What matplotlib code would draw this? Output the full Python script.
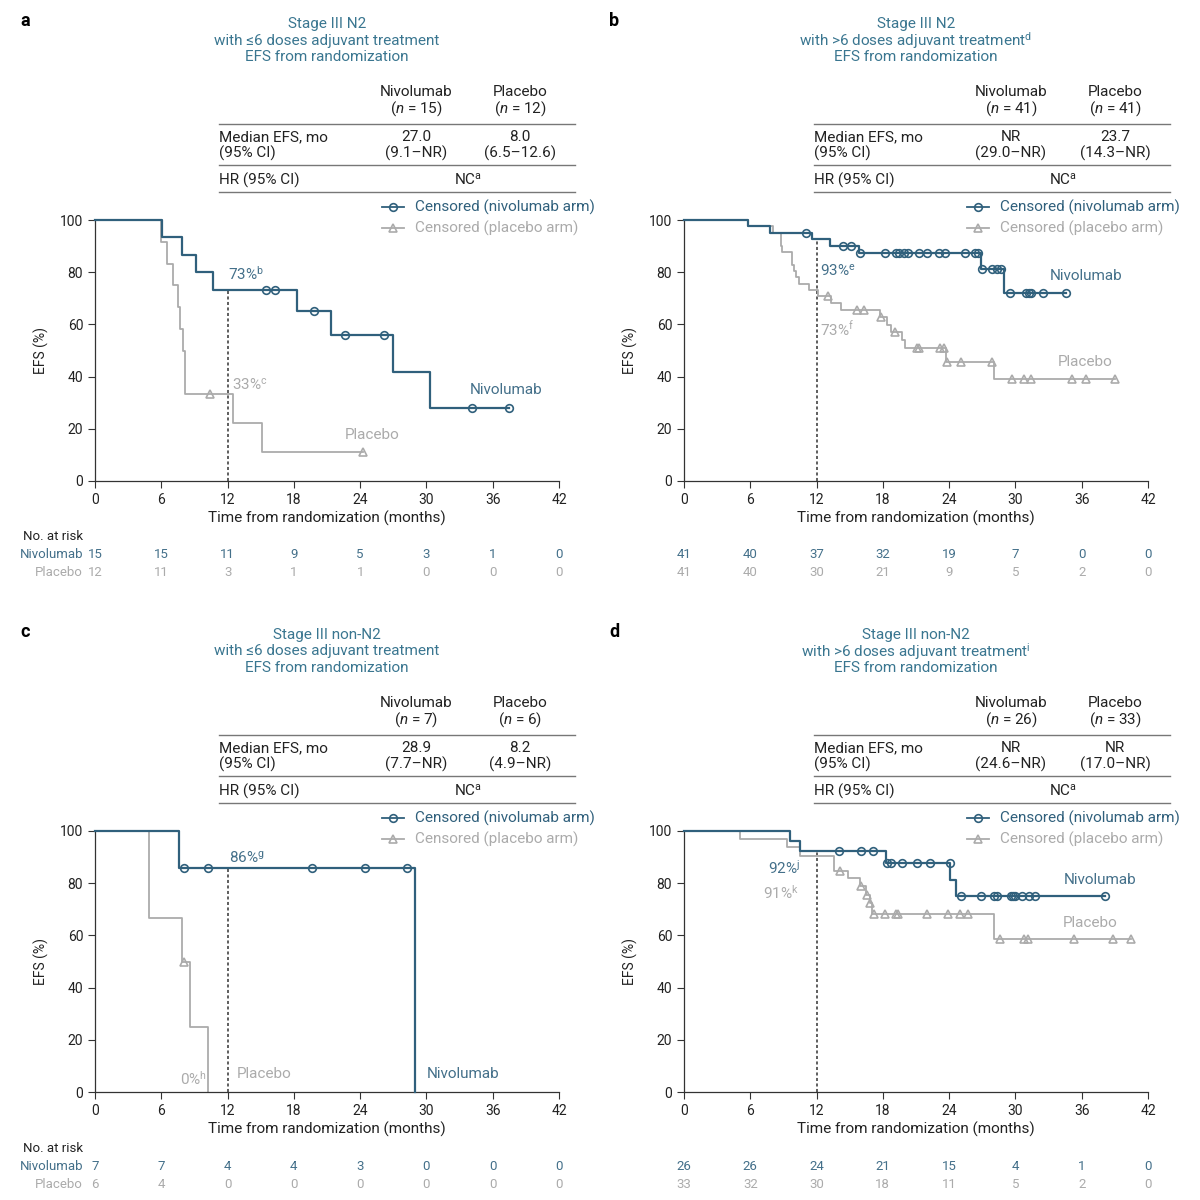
import numpy as np
import matplotlib
matplotlib.use('Agg')
import matplotlib.pyplot as plt
from matplotlib.lines import Line2D
from matplotlib.transforms import blended_transform_factory

plt.rcParams['font.family'] = ['Roboto', 'DejaVu Sans']
plt.rcParams['mathtext.fontset'] = 'custom'
plt.rcParams['mathtext.rm'] = 'Roboto'
plt.rcParams['mathtext.it'] = 'Roboto:italic'

NIVO = '#30607c'
NIVO_TXT = '#44708a'
PLAC = '#ababab'
TITLE = '#3a7690'
INK = '#222222'

months = [0, 6, 12, 18, 24, 30, 36, 42]

# ---- panel a: Stage III N2, <=6 doses
a_nivo_t = [6.1, 7.9, 9.1, 10.65, 18.25, 21.4, 27.0, 30.3]
a_nivo_s = [93.3, 86.7, 80.0, 73.3, 65.2, 55.9, 41.9, 27.9]
a_nivo_c = [15.5, 16.3, 19.85, 22.6, 26.2, 34.1, 37.5]
a_plac_t = [5.95, 6.5, 7.1, 7.5, 7.7, 8.0, 8.15, 12.5, 15.1]
a_plac_s = [91.7, 83.3, 75.0, 66.7, 58.3, 50.0, 33.3, 22.2, 11.1]
a_plac_c = [10.4, 24.3]
a_risk_nivo = [15, 15, 11, 9, 5, 3, 1, 0]
a_risk_plac = [12, 11, 3, 1, 1, 0, 0, 0]

# ---- panel b: Stage III N2, >6 doses
b_nivo_t = [5.8, 7.8, 11.6, 13.2, 15.8, 26.9, 29.0]
b_nivo_s = [97.6, 95.1, 92.6, 90.0, 87.5, 81.1, 72.2]
b_nivo_c = [11.0, 14.4, 15.1, 15.9, 18.2, 19.2, 19.5, 19.9, 20.3, 21.3, 22.0,
            23.1, 23.6, 25.4, 26.3, 26.6, 27.0, 27.9, 28.3, 28.7, 29.5, 31.0,
            31.2, 31.4, 32.5, 34.6]
b_plac_t = [5.8, 8.1, 8.75, 8.8, 8.85, 9.75, 9.8, 10.0, 10.1, 10.4, 11.3, 12.1,
            13.3, 14.2, 17.7, 18.4, 18.75, 19.7, 20.0, 23.7, 28.1]
b_plac_s = [97.6, 95.1, 92.7, 90.2, 87.8, 85.4, 82.9, 80.5, 78.0, 75.6, 73.2,
            70.7, 68.1, 65.5, 62.8, 59.9, 57.0, 54.0, 51.0, 45.5, 39.0]
b_plac_c = [13.0, 15.7, 16.3, 17.8, 19.1, 21.1, 21.25, 23.2, 23.5, 23.8, 25.1,
            27.9, 29.7, 30.8, 31.4, 35.1, 36.4, 39.0]
b_risk_nivo = [41, 40, 37, 32, 19, 7, 0, 0]
b_risk_plac = [41, 40, 30, 21, 9, 5, 2, 0]

# ---- panel c: Stage III non-N2, <=6 doses
c_nivo_t = [7.6, 29.0]
c_nivo_s = [85.7, 0.0]
c_nivo_c = [8.1, 10.2, 19.6, 24.4, 28.2]
c_plac_t = [4.9, 7.9, 8.6, 10.2]
c_plac_s = [66.7, 50.0, 25.0, 0.0]
c_plac_c = [8.1]
c_risk_nivo = [7, 7, 4, 4, 3, 0, 0, 0]
c_risk_plac = [6, 4, 0, 0, 0, 0, 0, 0]

# ---- panel d: Stage III non-N2, >6 doses
d_nivo_t = [9.6, 10.5, 18.3, 24.1, 24.6]
d_nivo_s = [96.2, 92.3, 87.9, 81.3, 75.2]
d_nivo_c = [14.0, 16.0, 17.1, 18.4, 18.7, 19.7, 21.1, 22.3, 24.05, 25.1, 26.9,
            28.1, 28.3, 29.6, 29.8, 30.0, 30.6, 31.2, 31.8, 38.1]
d_plac_t = [5.1, 9.3, 10.5, 13.6, 14.8, 15.9, 16.5, 16.8, 17.0, 28.1]
d_plac_s = [97.0, 94.0, 90.6, 84.5, 81.9, 78.8, 75.6, 72.5, 68.3, 58.7]
d_plac_c = [14.1, 16.0, 16.6, 16.85, 17.2, 18.2, 19.2, 19.4, 22.0, 23.9, 25.0,
            25.7, 28.6, 30.8, 31.1, 35.3, 38.8, 40.5]
d_risk_nivo = [26, 26, 24, 21, 15, 4, 1, 0]
d_risk_plac = [33, 32, 30, 18, 11, 5, 2, 0]

titles = [
    ['Stage III N2', 'with \u22646 doses adjuvant treatment', 'EFS from randomization'],
    ['Stage III N2', 'with >6 doses adjuvant treatment$^{\\mathrm{d}}$', 'EFS from randomization'],
    ['Stage III non-N2', 'with \u22646 doses adjuvant treatment', 'EFS from randomization'],
    ['Stage III non-N2', 'with >6 doses adjuvant treatment$^{\\mathrm{i}}$', 'EFS from randomization'],
]
n_nivo = [15, 41, 7, 26]
n_plac = [12, 41, 6, 33]
med_nivo = ['27.0', 'NR', '28.9', 'NR']
med_plac = ['8.0', '23.7', '8.2', 'NR']
ci_nivo = ['(9.1\u2013NR)', '(29.0\u2013NR)', '(7.7\u2013NR)', '(24.6\u2013NR)']
ci_plac = ['(6.5\u201312.6)', '(14.3\u2013NR)', '(4.9\u2013NR)', '(17.0\u2013NR)']

fig = plt.figure(figsize=(12, 12), dpi=100)


def fx(x):
    return x / 1200.0


def fy(y):
    return 1 - y / 1200.0


def surv_at(ts, ss, t):
    i = np.searchsorted(ts, t, side='right') - 1
    return 100.0 if i < 0 else ss[i]


def km(ax, ts, ss, cens, color, marker, lw, z):
    end = max(max(ts), max(cens))
    x = np.concatenate([[0], ts, [end]])
    y = np.concatenate([[100], ss, [ss[-1]]])
    ax.step(x, y, where='post', color=color, lw=lw, zorder=z, clip_on=False)
    cy = [surv_at(ts, ss, c) for c in cens]
    ax.plot(cens, cy, ls='none', marker=marker, ms=5.5 if marker == 'o' else 6,
            mfc='none', mec=color, mew=1.2, zorder=z + 1, clip_on=False)


def header(k, ox, oy, tx, lx):
    # title
    for j, line in enumerate(titles[k]):
        fig.text(fx(327 + ox), fy(24 + 16.5 * j + oy), line, ha='center', va='center',
                 color=TITLE, fontsize=11)
    # table
    L, R = 219 + tx, 575 + tx
    cn, cp = 416 + tx, 520 + tx
    fs = 11
    fig.text(fx(cn), fy(92 + oy), 'Nivolumab', ha='center', va='center', color=INK, fontsize=fs)
    fig.text(fx(cn), fy(109 + oy), '($\\mathit{n}$ = %d)' % n_nivo[k], ha='center', va='center', color=INK, fontsize=fs)
    fig.text(fx(cp), fy(92 + oy), 'Placebo', ha='center', va='center', color=INK, fontsize=fs)
    fig.text(fx(cp), fy(109 + oy), '($\\mathit{n}$ = %d)' % n_plac[k], ha='center', va='center', color=INK, fontsize=fs)
    fig.text(fx(L), fy(137 + oy), 'Median EFS, mo', ha='left', va='center', color=INK, fontsize=fs)
    fig.text(fx(L), fy(153 + oy), '(95% CI)', ha='left', va='center', color=INK, fontsize=fs)
    fig.text(fx(cn), fy(137 + oy), med_nivo[k], ha='center', va='center', color=INK, fontsize=fs)
    fig.text(fx(cn), fy(153 + oy), ci_nivo[k], ha='center', va='center', color=INK, fontsize=fs)
    fig.text(fx(cp), fy(137 + oy), med_plac[k], ha='center', va='center', color=INK, fontsize=fs)
    fig.text(fx(cp), fy(153 + oy), ci_plac[k], ha='center', va='center', color=INK, fontsize=fs)
    fig.text(fx(L), fy(180 + oy), 'HR (95% CI)', ha='left', va='center', color=INK, fontsize=fs)
    fig.text(fx(468 + tx), fy(180 + oy), 'NC$^{\\mathrm{a}}$', ha='center', va='center', color=INK, fontsize=fs)
    for yy in (124, 165, 192):
        fig.add_artist(Line2D([fx(L), fx(R)], [fy(yy + oy)] * 2, color='#777777', lw=1.0))
    # legend
    for yy, col, mk, lab in ((207, NIVO, 'o', 'Censored (nivolumab arm)'),
                             (228, PLAC, '^', 'Censored (placebo arm)')):
        fig.add_artist(Line2D([fx(382 + lx), fx(404 + lx)], [fy(yy + oy)] * 2, color=col, lw=1.3))
        fig.add_artist(Line2D([fx(393 + lx)], [fy(yy + oy)], ls='none', marker=mk, ms=5.5,
                              mfc='none', mec=col, mew=1.2))
        fig.text(fx(415 + lx), fy(yy + oy), lab, ha='left', va='center', color=col, fontsize=11)


def panel(k, letter, ox, oy, tx, lx, nivo, plac, risk_n, risk_p, ann, row_labels):
    fig.text(fx(20 + ox), fy(21 + oy), letter, ha='left', va='center', fontsize=13,
             fontweight='bold', color='black')
    header(k, ox, oy, tx, lx)
    ax = fig.add_axes([fx(95 + ox), fy(481 + oy), 464 / 1200.0, 261 / 1200.0])
    ax.set_xlim(0, 42)
    ax.set_ylim(0, 100)
    for s in ('top', 'right'):
        ax.spines[s].set_visible(False)
    for s in ('left', 'bottom'):
        ax.spines[s].set_color('#333333')
        ax.spines[s].set_linewidth(0.9)
    ax.set_xticks(months)
    ax.set_yticks([0, 20, 40, 60, 80, 100])
    ax.tick_params(direction='out', length=5, width=0.8, colors='#333333', labelsize=10,
                   labelcolor=INK)
    ax.set_xlabel('Time from randomization (months)', fontsize=11, color=INK, labelpad=3)
    ax.set_ylabel('EFS (%)', fontsize=10, color=INK, labelpad=8)

    # 12-month landmark
    ax.plot([12, 12], [0, surv_at(nivo[0], nivo[1], 12)], ls=(0, (2, 1.6)), color='#333333',
            lw=1.1, zorder=1)
    km(ax, plac[0], plac[1], plac[2], PLAC, '^', 1.3, 2)
    km(ax, nivo[0], nivo[1], nivo[2], NIVO, 'o', 1.6, 4)

    for (x, y, s, col, ha) in ann:
        ax.text(x, y, s, color=col, ha=ha, va='center', fontsize=11)

    tr = blended_transform_factory(ax.transData, fig.transFigure)
    if row_labels:
        fig.text(fx(83 + ox), fy(537 + oy), 'No. at risk', ha='right', va='center', color=INK, fontsize=9.5)
        fig.text(fx(83 + ox), fy(555 + oy), 'Nivolumab', ha='right', va='center', color=NIVO_TXT, fontsize=9.5)
        fig.text(fx(83 + ox), fy(573 + oy), 'Placebo', ha='right', va='center', color=PLAC, fontsize=9.5)
    for m, rn, rp in zip(months, risk_n, risk_p):
        ax.text(m, fy(555 + oy), str(rn), transform=tr, ha='center', va='center',
                color=NIVO_TXT, fontsize=9.5)
        ax.text(m, fy(573 + oy), str(rp), transform=tr, ha='center', va='center',
                color=PLAC, fontsize=9.5)
    return ax


panel(0, 'a', 0, 0, 0, 0, (a_nivo_t, a_nivo_s, a_nivo_c), (a_plac_t, a_plac_s, a_plac_c),
      a_risk_nivo, a_risk_plac,
      [(12.0, 79.3, '73%$^{\\mathrm{b}}$', NIVO_TXT, 'left'),
       (12.4, 36.8, '33%$^{\\mathrm{c}}$', PLAC, 'left'),
       (37.2, 34.9, 'Nivolumab', NIVO_TXT, 'center'),
       (25.1, 17.6, 'Placebo', PLAC, 'center')], True)

panel(1, 'b', 589, 0, 595, 585, (b_nivo_t, b_nivo_s, b_nivo_c), (b_plac_t, b_plac_s, b_plac_c),
      b_risk_nivo, b_risk_plac,
      [(12.3, 80.5, '93%$^{\\mathrm{e}}$', NIVO_TXT, 'left'),
       (12.3, 58.2, '73%$^{\\mathrm{f}}$', PLAC, 'left'),
       (36.4, 78.5, 'Nivolumab', NIVO_TXT, 'center'),
       (36.3, 45.6, 'Placebo', PLAC, 'center')], False)

panel(2, 'c', 0, 611, 0, 0, (c_nivo_t, c_nivo_s, c_nivo_c), (c_plac_t, c_plac_s, c_plac_c),
      c_risk_nivo, c_risk_plac,
      [(12.1, 89.7, '86%$^{\\mathrm{g}}$', NIVO_TXT, 'left'),
       (10.1, 5.0, '0%$^{\\mathrm{h}}$', PLAC, 'right'),
       (12.85, 6.9, 'Placebo', PLAC, 'left'),
       (30.0, 6.9, 'Nivolumab', NIVO_TXT, 'left')], True)

panel(3, 'd', 589, 611, 595, 585, (d_nivo_t, d_nivo_s, d_nivo_c), (d_plac_t, d_plac_s, d_plac_c),
      d_risk_nivo, d_risk_plac,
      [(10.5, 85.8, '92%$^{\\mathrm{j}}$', NIVO_TXT, 'right'),
       (10.4, 76.2, '91%$^{\\mathrm{k}}$', PLAC, 'right'),
       (37.7, 81.2, 'Nivolumab', NIVO_TXT, 'center'),
       (36.8, 64.8, 'Placebo', PLAC, 'center')], False)

fig.savefig('out.png', dpi=100)
